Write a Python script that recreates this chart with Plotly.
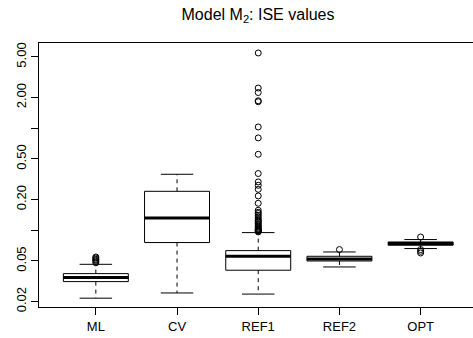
import plotly.graph_objects as go
import math

categories = ["ML", "CV", "REF1", "REF2", "OPT"]
lower_whisker = [0.0216, 0.0243, 0.0237, 0.0437, 0.0662]
q1 = [0.0314, 0.0758, 0.0406, 0.0500, 0.0713]
median = [0.0344, 0.132, 0.0556, 0.0523, 0.0741]
q3 = [0.0376, 0.241, 0.0632, 0.0556, 0.0768]
upper_whisker = [0.0464, 0.354, 0.0949, 0.0613, 0.0811]

outliers_ML = [0.0480, 0.0497, 0.0510, 0.0520, 0.0535, 0.0547]
outliers_CV = []
outliers_REF1 = [5.47, 2.48, 2.24, 1.86, 1.82, 1.03, 0.804, 0.556, 0.360, 0.298, 0.276,
                 0.252, 0.217, 0.184, 0.157, 0.146, 0.135, 0.1253, 0.1163, 0.1077,
                 0.100, 0.098, 0.0965, 0.099, 0.101, 0.103, 0.105, 0.110, 0.113,
                 0.120, 0.123, 0.130, 0.140, 0.150]
outliers_REF2 = [0.0647]
outliers_OPT = [0.0859, 0.0647, 0.0622, 0.0599]
outliers = [outliers_ML, outliers_CV, outliers_REF1, outliers_REF2, outliers_OPT]

ytick_vals = [0.02, 0.05, 0.2, 0.5, 2, 5]
ytick_text = ["0.02", "0.05", "0.20", "0.50", "2.00", "5.00"]
ytick_unlabeled = [0.1, 1]

BOX_W = 0.8
CAP_W = 0.4
FONT = "Liberation Sans, Arial, sans-serif"

fig = go.Figure()
xs = list(range(1, len(categories) + 1))

for i, x in enumerate(xs):
    # dashed whiskers
    fig.add_trace(go.Scatter(x=[x, x, None, x, x],
                             y=[q3[i], upper_whisker[i], None, q1[i], lower_whisker[i]],
                             mode="lines", line=dict(color="black", width=1, dash="4px,4px"),
                             showlegend=False, hoverinfo="skip"))
    # caps
    fig.add_trace(go.Scatter(x=[x - CAP_W / 2, x + CAP_W / 2, None, x - CAP_W / 2, x + CAP_W / 2],
                             y=[upper_whisker[i], upper_whisker[i], None, lower_whisker[i], lower_whisker[i]],
                             mode="lines", line=dict(color="black", width=1),
                             showlegend=False, hoverinfo="skip"))
    # box body
    fig.add_trace(go.Box(x=[x], q1=[q1[i]], median=[median[i]], q3=[q3[i]],
                         lowerfence=[q1[i]], upperfence=[q3[i]], width=BOX_W,
                         fillcolor="white", line=dict(color="black", width=1),
                         whiskerwidth=0, showlegend=False, hoverinfo="skip"))
    # thick median
    fig.add_trace(go.Scatter(x=[x - BOX_W / 2, x + BOX_W / 2], y=[median[i], median[i]],
                             mode="lines", line=dict(color="black", width=3),
                             showlegend=False, hoverinfo="skip"))
    # outliers
    if outliers[i]:
        fig.add_trace(go.Scatter(x=[x] * len(outliers[i]), y=outliers[i], mode="markers",
                                 marker=dict(symbol="circle-open", size=6, color="black",
                                             line=dict(width=1, color="black")),
                                 showlegend=False, hoverinfo="skip"))

fig.update_layout(
    width=473, height=338,
    margin=dict(l=39, r=0, t=43, b=31),
    paper_bgcolor="white", plot_bgcolor="white",
    boxmode="overlay",
    font=dict(family=FONT, color="black", size=13),
    title=dict(text="Model M<sub>2</sub>: ISE values", x=258 / 473, xref="container",
               xanchor="center", y=1 - 14 / 338, yref="container", yanchor="middle",
               font=dict(family=FONT, size=16, color="black")),
    xaxis=dict(range=[0.3, 5.645], tickvals=xs, ticktext=categories,
               showgrid=False, zeroline=False, showline=True, linecolor="black",
               linewidth=1, mirror=True, ticks="outside", ticklen=7, tickcolor="black",
               tickfont=dict(size=13, family=FONT, color="black")),
    yaxis=dict(type="log", range=[math.log10(0.0177), math.log10(6.85)],
               tickvals=ytick_vals, ticktext=ytick_text, tickangle=-90,
               minor=dict(tickvals=ytick_unlabeled, ticks="outside", ticklen=7,
                          tickcolor="black", showgrid=False),
               showgrid=False, zeroline=False, showline=True, linecolor="black",
               linewidth=1, mirror=False, ticks="outside", ticklen=7, tickcolor="black",
               tickfont=dict(size=13, family=FONT, color="black")),
)

fig.write_html("out.html", config={"displayModeBar": False},
               post_script="document.body.style.margin='0';")
